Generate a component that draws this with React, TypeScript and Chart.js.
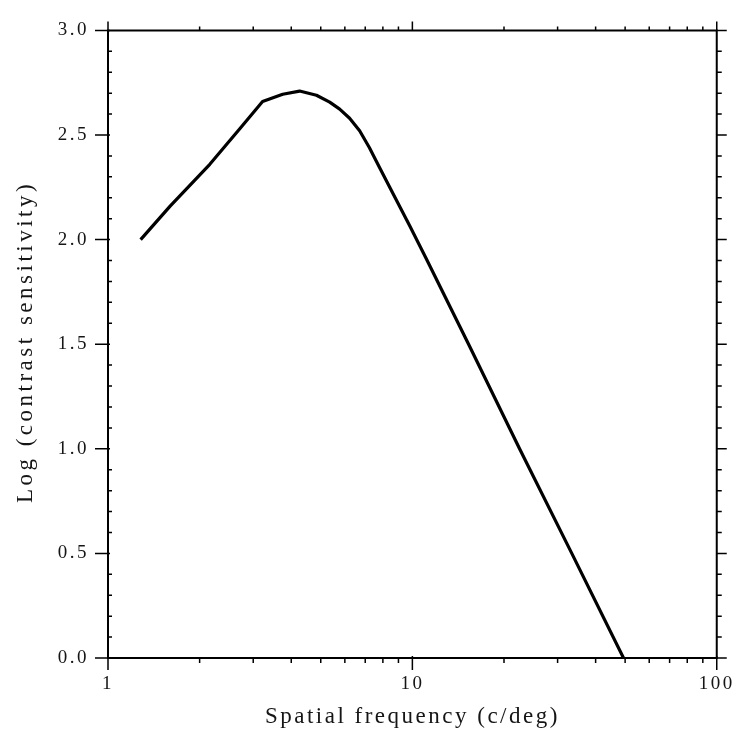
import React, { useEffect, useRef } from "react";
import { Chart, registerables } from "chart.js";

Chart.register(...registerables);

// Spatial frequency (c/deg)
const frequencies = [1.28, 1.6, 2.16, 2.71, 3.22, 3.75, 4.26, 4.84, 5.35, 5.77, 6.22, 6.71, 7.22, 7.8, 8.6, 9.77, 11.1, 15.3, 22.5, 33.4, 49.4];
// Log contrast sensitivity
const logSensitivity = [2.0, 2.16, 2.36, 2.53, 2.66, 2.695, 2.71, 2.69, 2.657, 2.624, 2.58, 2.52, 2.44, 2.345, 2.225, 2.07, 1.91, 1.5, 1.0, 0.5, 0.0];

const xMin = 1;
const xMax = 100;
const yMin = 0;
const yMax = 3;
const yStep = 0.5;
const xTitle = "Spatial frequency (c/deg)";
const yTitle = "Log (contrast sensitivity)";

const FONT = '"Liberation Serif", "Times New Roman", serif';
const INK = "#151515";

const framePlugin = {
  id: "frame",
  beforeDraw(chart: any) {
    chart.ctx.letterSpacing = "2.5px";
  },
  afterDraw(chart: any) {
    const ctx = chart.ctx;
    const { left, right, top, bottom } = chart.chartArea;
    const xs = chart.scales.x;
    const ys = chart.scales.y;
    ctx.save();
    // y-axis title
    ctx.letterSpacing = "3.5px";
    ctx.fillStyle = INK;
    ctx.font = `23px ${FONT}`;
    ctx.textAlign = "center";
    ctx.textBaseline = "middle";
    ctx.translate(26, 342);
    ctx.rotate(-Math.PI / 2);
    ctx.fillText(yTitle, 0, 0);
    ctx.restore();

    ctx.save();
    ctx.letterSpacing = "0px";
    ctx.strokeStyle = "#000";
    ctx.lineWidth = 2;
    ctx.beginPath();
    ctx.rect(left, top, right - left, bottom - top);
    ctx.stroke();

    ctx.lineWidth = 1.5;
    ctx.beginPath();
    for (let i = 0; i <= 30; i++) {
      const py = ys.getPixelForValue(i / 10);
      if (i % 5 === 0) {
        ctx.moveTo(left - 13, py);
        ctx.lineTo(left + 2, py);
        ctx.moveTo(right, py);
        ctx.lineTo(right + 10, py);
      } else {
        ctx.moveTo(left, py);
        ctx.lineTo(left + 4, py);
        ctx.moveTo(right, py);
        ctx.lineTo(right + 5, py);
      }
    }
    for (let d = 1; d < 100; d *= 10) {
      for (let m = 1; m <= 10; m++) {
        const px = xs.getPixelForValue(m * d);
        if (m === 1 || m === 10) {
          ctx.moveTo(px, bottom - 2);
          ctx.lineTo(px, bottom + 12);
          ctx.moveTo(px, top);
          ctx.lineTo(px, top - 9);
        } else {
          ctx.moveTo(px, bottom);
          ctx.lineTo(px, bottom + 5);
          ctx.moveTo(px, top);
          ctx.lineTo(px, top - 4);
        }
      }
    }
    ctx.stroke();
    ctx.restore();
    ctx.letterSpacing = "0px";
  },
};

export default function App() {
  const ref = useRef<HTMLCanvasElement | null>(null);

  useEffect(() => {
    if (!ref.current) return;
    const chart = new Chart(ref.current, {
      type: "line",
      data: {
        datasets: [
          {
            data: frequencies.map((f, i) => ({ x: f, y: logSensitivity[i] })),
            borderColor: "#000",
            borderWidth: 3.2,
            pointRadius: 0,
            tension: 0,
            borderJoinStyle: "round",
            fill: false,
          },
        ],
      },
      options: {
        animation: false,
        responsive: false,
        maintainAspectRatio: false,
        layout: { padding: { top: 28, right: 28, left: 0, bottom: 0 } },
        plugins: { legend: { display: false }, tooltip: { enabled: false } },
        scales: {
          x: {
            type: "logarithmic",
            min: xMin,
            max: xMax,
            grid: { display: false, drawTicks: false },
            border: { display: false },
            afterFit: (s: any) => {
              s.height = 80;
            },
            ticks: {
              autoSkip: false,
              maxRotation: 0,
              padding: 15,
              color: INK,
              font: { family: FONT, size: 19 },
              callback: (v: any) => {
                const l = Math.log10(Number(v));
                return Math.abs(l - Math.round(l)) < 1e-6 ? String(Math.round(Math.pow(10, Math.round(l)))) : "";
              },
            },
            title: {
              display: true,
              text: xTitle,
              color: INK,
              font: { family: FONT, size: 23 },
              padding: { top: 0, bottom: 7 },
            },
          },
          y: {
            min: yMin,
            max: yMax,
            grid: { display: false, drawTicks: false },
            border: { display: false },
            afterFit: (s: any) => {
              s.width = 108;
            },
            ticks: {
              stepSize: yStep,
              padding: 19,
              color: INK,
              font: { family: FONT, size: 19 },
              callback: (v: any) => Number(v).toFixed(1),
            },
            title: { display: false, text: yTitle },
          },
        },
      },
      plugins: [framePlugin],
    } as any);
    return () => chart.destroy();
  }, []);

  return (
    <div style={{ position: "fixed", left: 0, top: 0, width: 746, height: 738, background: "#fff" }}>
      <canvas ref={ref} width={746} height={738} style={{ display: "block" }} />
    </div>
  );
}
